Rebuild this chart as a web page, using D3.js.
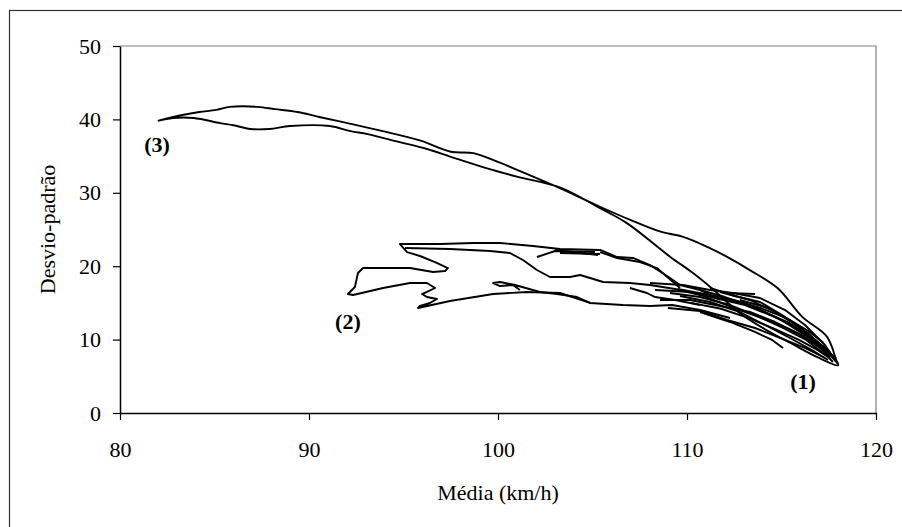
<!DOCTYPE html>
<html>
<head>
<meta charset="utf-8">
<script src="https://cdn.jsdelivr.net/npm/d3@7"></script>
<style>
  html, body { margin: 0; padding: 0; background: #fff; }
  svg text { font-family: "Liberation Serif", "Times New Roman", serif !important; fill: #000; }
</style>
</head>
<body>
<div id="chart"></div>
<script>
const width = 902;
const height = 527;

const xTicks = [80, 90, 100, 110, 120];
const yTicks = [0, 10, 20, 30, 40, 50];

// (3) big loop: outer branch then inner branch back to start
const curve3 = [
  [82.0,39.8],[82.6,40.2],[83.3,40.6],[84.2,41.0],[85.1,41.3],[85.8,41.7],[86.5,41.8],[87.3,41.7],
  [88.2,41.4],[89.4,41.0],[90.6,40.3],[92.2,39.4],[93.9,38.4],[95.9,37.1],[97.5,35.6],[98.7,35.4],
  [100.1,34.1],[101.3,32.8],[103.3,30.6],[105.4,28.1],[107.0,26.3],[108.6,24.7],[109.8,24.0],
  [111.1,22.6],[112.1,21.3],[113.3,19.5],[114.8,17.0],[116.1,13.1],[117.4,10.4],[117.9,7.2],[118.0,6.5],
  [116.9,7.6],[115.5,9.5],[114.2,11.3],[112.8,13.6],[111.4,16.8],[110.3,19.1],[109.1,21.3],
  [106.8,25.9],[105.4,27.9],[103.3,30.7],[101.0,32.2],[99.2,33.5],[97.5,34.9],[96.2,36.0],
  [94.8,36.9],[93.1,38.0],[92.2,38.4],[91.1,39.1],[89.0,39.1],[87.9,38.7],[86.9,38.7],[86.0,39.2],
  [85.3,39.5],[83.9,40.2],[82.8,40.2],[82.0,39.8]
];

// (2) region
const curve2 = [
  [111.75,15.40],[110.69,16.76],[109.63,17.44],[109.10,18.39],[108.04,20.16],[107.14,21.12],
  [106.30,21.25],[105.40,22.21],[103.28,22.34],[101.85,22.75],[100.11,23.16],[98.68,23.16],
  [96.93,23.02],[94.81,23.02],[95.19,21.93],[95.87,21.39],[96.67,20.57],[97.35,19.75],
  [97.20,19.35],[96.56,19.21],[95.34,19.75],[94.02,19.75],[92.86,19.75],[92.59,19.07],
  [92.43,17.17],[92.06,16.21],[92.33,16.08],[93.92,17.03],[95.34,17.71],[96.24,17.71],
  [96.67,17.03],[96.24,16.49],[95.98,16.21],[96.24,15.80],[96.77,15.53],[96.40,14.99],
  [95.87,14.58],[95.77,14.31],[97.46,15.26],[99.74,16.21],[101.53,16.49],[103.28,16.35],
  [104.87,14.99],[106.61,14.71],[108.04,14.58],[109.21,14.71],[110.69,14.03],[112.28,12.94]
];
const midLine = [
  [95.08,22.48],[97.46,22.34],[99.58,22.07],[100.63,21.80],[101.32,20.84],[102.06,19.48],
  [102.75,18.53],[103.81,18.53],[104.34,18.80],[104.87,18.39],[105.56,17.85],[106.98,17.71],
  [108.04,17.44],[109.37,16.89],[110.69,16.08],[112.80,14.03],[114.92,11.99],[116.51,9.95],[117.57,7.90]
];
const smallLoop = [
  [101.16,16.76],[100.79,17.44],[100.11,17.30],[99.74,17.71],[100.11,17.85],[100.90,17.44],
  [102.22,16.49],[103.12,16.21],[104.18,15.80],[104.87,14.99]
];
const topStrands = [
  [[102.06,21.25],[103.02,22.07],[105.13,21.93]],
  [[103.02,22.21],[105.29,21.53]],
  [[103.28,21.80],[105.40,21.66]],
  [[105.40,21.93],[106.30,21.12],[107.51,20.57],[108.41,19.75],[109.63,17.03]]
];

// (1) cluster
const cluster = [
  [[108.04,17.71],[109.79,17.44],[111.22,16.76],[112.43,16.35],[113.86,15.67],[115.19,14.03],[116.24,11.99],[117.30,9.26],[117.83,7.22]],
  [[108.31,16.76],[110.16,16.49],[111.48,15.67],[113.07,14.71],[114.39,13.35],[115.71,11.72],[116.77,9.67],[117.57,7.63]],
  [[108.57,15.40],[110.16,15.40],[111.75,14.58],[113.33,13.76],[114.66,12.40],[115.98,10.76],[117.04,8.86],[117.72,6.95]],
  [[108.99,14.31],[110.69,13.90],[112.12,12.67],[113.60,11.58],[114.92,10.22],[116.24,8.86],[117.30,7.49]],
  [[109.63,15.94],[111.22,15.12],[112.80,13.76],[114.13,11.99],[115.45,10.22],[116.61,8.58],[117.46,7.22]],
  [[110.69,16.76],[112.01,15.80],[113.44,14.58],[114.81,12.94],[115.98,11.04],[117.04,9.26],[117.88,7.49]],
  [[110.69,13.76],[112.28,12.40],[113.60,11.04],[114.50,9.95],[115.08,8.86]],
  [[111.75,16.49],[113.33,15.40],[114.66,13.76],[115.87,11.85],[116.93,9.67],[117.57,8.31]],
  [[111.22,17.03],[112.54,15.94],[113.86,15.12],[115.03,13.35],[116.40,10.90],[117.35,8.58],[117.99,6.68]],
  [[109.10,16.35],[110.69,15.80],[112.28,14.71],[113.70,13.22],[115.08,11.58],[116.30,9.95],[117.14,8.31]],
  [[112.80,15.40],[114.29,14.31],[115.56,12.40],[116.61,10.22],[117.46,8.04]],
  [[112.12,16.35],[113.60,16.21]],
  [[106.98,17.03],[107.88,16.35],[108.31,15.80],[109.37,15.40],[110.69,14.71]],
  [[110.2,15.0],[111.8,14.2],[113.2,13.0],[114.6,11.5],[115.9,10.0],[116.9,8.6],[117.6,7.4]],
  [[111.5,15.9],[113.0,14.9],[114.2,13.6],[115.4,12.3],[116.5,10.4],[117.3,8.9],[117.9,7.0]],
  [[109.5,16.9],[111.0,16.2],[112.6,15.3],[114.0,14.2],[115.3,12.9],[116.4,11.2],[117.2,9.6]]
];

const labels = [
  { text: "(3)", x: 81.96, y: 35.6 },
  { text: "(2)", x: 92.06, y: 11.4 },
  { text: "(1)", x: 116.14, y: 3.3 }
];

const svg = d3.select("#chart").append("svg")
  .attr("width", width).attr("height", height)
  .style("display", "block");

// outer frame (only top/left visible)
svg.append("rect")
  .attr("x", 9.5).attr("y", 10.5)
  .attr("width", width + 20).attr("height", height + 20)
  .attr("fill", "none").attr("stroke", "#333").attr("stroke-width", 1.2);

const x = d3.scaleLinear().domain([80, 120]).range([120, 876]);
const y = d3.scaleLinear().domain([0, 50]).range([413, 46]);

// plot frame top/right in grey
svg.append("path")
  .attr("d", `M${x(80)},${y(50)}H${x(120)}V${y(0)}`)
  .attr("fill", "none").attr("stroke", "#808080").attr("stroke-width", 1.2);

const xAxis = svg.append("g")
  .attr("transform", `translate(0,${y(0)})`)
  .call(d3.axisBottom(x).tickValues(xTicks).tickSize(7).tickPadding(21).tickSizeOuter(0));
const yAxis = svg.append("g")
  .attr("transform", `translate(${x(80)},0)`)
  .call(d3.axisLeft(y).tickValues(yTicks).tickSize(7).tickPadding(12).tickSizeOuter(0));

[xAxis, yAxis].forEach(g => {
  g.select(".domain").attr("stroke", "#000").attr("stroke-width", 1.5);
  g.selectAll(".tick line").attr("stroke", "#000").attr("stroke-width", 1.2);
  g.selectAll(".tick text").attr("font-size", 22);
});

const line = d3.line().x(d => x(d[0])).y(d => y(d[1]));
const smooth = d3.line().x(d => x(d[0])).y(d => y(d[1])).curve(d3.curveCatmullRom.alpha(0.5));

const g = svg.append("g")
  .attr("fill", "none").attr("stroke", "#000")
  .attr("stroke-width", 1.9).attr("stroke-linejoin", "round");

g.append("path").attr("d", smooth(curve3));
g.append("path").attr("d", line(curve2));
g.append("path").attr("d", line(midLine));
g.append("path").attr("d", line(smallLoop));
g.selectAll(".top").data(topStrands).join("path").attr("class", "top").attr("d", line);
g.selectAll(".cl").data(cluster).join("path").attr("class", "cl").attr("d", line);

svg.selectAll(".lbl").data(labels).join("text")
  .attr("class", "lbl")
  .attr("x", d => x(d.x)).attr("y", d => y(d.y))
  .attr("text-anchor", "middle")
  .attr("font-size", 22).attr("font-weight", "bold")
  .text(d => d.text);

svg.append("text")
  .attr("x", (x(80) + x(120)) / 2).attr("y", 500)
  .attr("text-anchor", "middle").attr("font-size", 22)
  .text("Média (km/h)");

svg.append("text")
  .attr("transform", `translate(55,${(y(0) + y(50)) / 2}) rotate(-90)`)
  .attr("text-anchor", "middle").attr("font-size", 22)
  .text("Desvio-padrão");
</script>
</body>
</html>
